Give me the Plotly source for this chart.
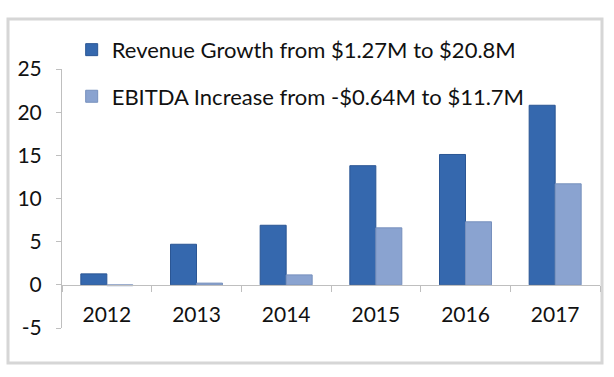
import plotly.graph_objects as go

years = ["2012", "2013", "2014", "2015", "2016", "2017"]
revenue = [1.27, 4.7, 6.9, 13.8, 15.1, 20.8]
ebitda = [-0.1, 0.2, 1.15, 6.6, 7.3, 11.7]
revenue_name = "Revenue Growth from $1.27M to $20.8M"
ebitda_name = "EBITDA Increase from -$0.64M to $11.7M"
y_ticks = [-5, 0, 5, 10, 15, 20, 25]
y_tick_text = ["-5", "0", "5", "10", "15", "20", "25"]

FONT = "Lato"
L, R, T, B = 62, 600, 69, 328
PW, PH = R - L, B - T

fig = go.Figure()
fig.add_trace(go.Bar(x=years, y=revenue, name=revenue_name, legendgroup="a",
                     marker=dict(color="#3568AE", line=dict(color="#2B5694", width=1))))
fig.add_trace(go.Bar(x=years, y=ebitda, name=ebitda_name, legendgroup="b",
                     marker=dict(color="#8AA3D0", line=dict(color="#7790BD", width=1))))

fig.update_layout(
    width=614, height=377,
    margin=dict(l=L, r=614 - R, t=T, b=377 - B, autoexpand=False),
    paper_bgcolor="white", plot_bgcolor="white",
    barmode="group", bargap=0.42, bargroupgap=0,
    font=dict(family=FONT, size=21, color="#111111"),
    legend=dict(x=0.018, y=1.155, xanchor="left", yanchor="top",
                font=dict(size=22), tracegroupgap=15, bgcolor="rgba(0,0,0,0)"),
    xaxis=dict(anchor="free", position=1/6, showline=True, linecolor="#bfbfbf", linewidth=1,
               ticks="outside", tickson="boundaries", ticklen=6, tickcolor="#bfbfbf",
               showgrid=False, ticklabelstandoff=11),
    yaxis=dict(range=[-5, 25], tickvals=y_ticks, ticktext=y_tick_text, showline=True,
               linecolor="#bfbfbf", linewidth=1,
               ticks="outside", ticklen=5, tickcolor="#bfbfbf", showgrid=False,
               zeroline=False, ticklabelstandoff=10),
    shapes=[dict(type="rect", xref="paper", yref="paper",
                 x0=(8 - L) / PW, x1=(602 - L) / PW,
                 y0=(B - 363) / PH, y1=(B - 19) / PH,
                 line=dict(color="#d6d6d6", width=3), layer="below")],
)

fig.write_html("out.html", config={"displayModeBar": False},
               post_script="document.body.style.margin='0';")
